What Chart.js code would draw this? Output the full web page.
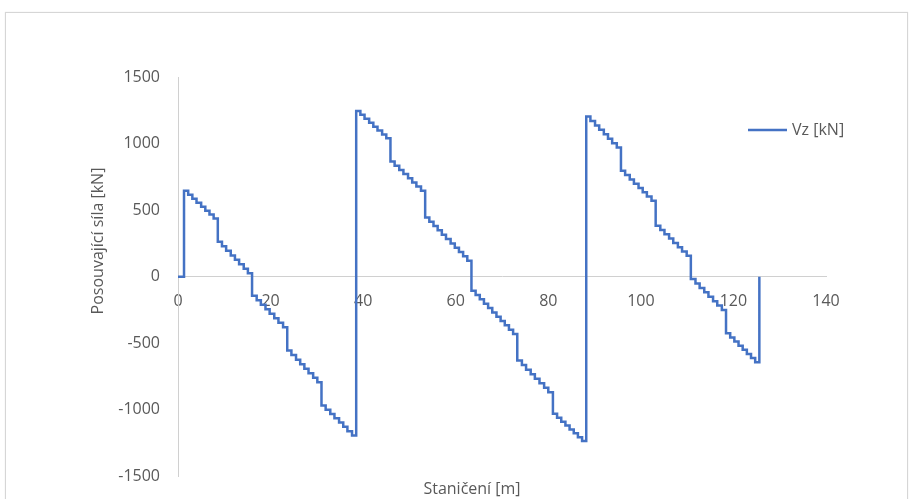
<!DOCTYPE html>
<html><head><meta charset="utf-8">
<script src="https://cdn.jsdelivr.net/npm/chart.js@4/dist/chart.umd.min.js"></script>
<style>
html,body{margin:0;padding:0;background:#fff;overflow:hidden;width:910px;height:499px;position:relative;}
#frame{position:absolute;left:5px;top:12px;width:903px;height:520px;border:1px solid #d6d6d6;box-sizing:border-box;box-shadow:0 0 1px #e0e0e0;}
#wrap{position:absolute;left:0;top:0;width:910px;height:504px;}
</style></head><body>
<div id="frame"></div>
<div id="wrap"><canvas id="c"></canvas></div>
<script>
// Stationing [m] and shear force Vz [kN]
const span1X = [0, 1.3, 2.2, 3.1, 4.0, 5.0, 5.9, 6.8, 7.7, 8.6, 9.5, 10.4, 11.4, 12.3, 13.2, 14.2, 15.1, 16.0, 17.0, 17.9, 18.9, 19.8, 20.8, 21.7, 22.7, 23.6, 24.5, 25.5, 26.4, 27.3, 28.2, 29.2, 30.1, 31.0, 31.9, 32.9, 33.8, 34.8, 35.7, 36.6, 37.6];
const span1Vz = [0, 645, 615, 586, 556, 526, 496, 467, 437, 262, 228, 194, 160, 127, 93, 59, 25, -143, -177, -211, -245, -279, -312, -346, -380, -555, -589, -623, -657, -691, -725, -759, -793, -967, -999, -1032, -1064, -1096, -1128, -1161, -1193];
const span2X = [38.5, 39.4, 40.3, 41.3, 42.2, 43.1, 44.1, 45.0, 45.9, 46.8, 47.8, 48.7, 49.7, 50.6, 51.5, 52.5, 53.4, 54.3, 55.2, 56.1, 57.0, 57.9, 58.9, 59.8, 60.7, 61.6, 62.5, 63.4, 64.3, 65.2, 66.1, 67.0, 67.9, 68.8, 69.7, 70.6, 71.5, 72.4, 73.3, 74.3, 75.2, 76.2, 77.1, 78.1, 79.1, 80.0, 81.0, 81.9, 82.8, 83.7, 84.6, 85.5, 86.4, 87.3];
const span2Vz = [1245, 1216, 1186, 1157, 1127, 1098, 1069, 1039, 865, 834, 802, 771, 739, 708, 677, 645, 445, 413, 380, 348, 315, 283, 250, 218, 185, 153, 120, -105, -138, -170, -203, -235, -268, -300, -333, -365, -398, -430, -630, -664, -698, -732, -766, -800, -834, -868, -1030, -1059, -1089, -1118, -1147, -1176, -1206, -1235];
const span3X = [88.2, 89.1, 90.1, 91.0, 92.0, 92.9, 93.8, 94.8, 95.7, 96.6, 97.6, 98.5, 99.5, 100.4, 101.3, 102.3, 103.2, 104.2, 105.1, 106.1, 107.0, 108.0, 108.9, 109.9, 110.8, 111.8, 112.7, 113.7, 114.6, 115.6, 116.5, 117.5, 118.4, 119.3, 120.2, 121.1, 122.0, 122.9, 123.8, 124.7, 125.6];
const span3Vz = [1203, 1170, 1136, 1103, 1070, 1036, 1003, 970, 795, 763, 731, 699, 666, 634, 602, 570, 382, 350, 318, 286, 254, 222, 190, 158, -18, -51, -84, -117, -151, -184, -217, -250, -425, -456, -487, -518, -549, -580, -611, -642, 0];

const xTicks = [0, 20, 40, 60, 80, 100, 120, 140];
const yTicks = [-1500, -1000, -500, 0, 500, 1000, 1500];
const seriesName = 'Vz [kN]';
const xTitle = 'Staničení [m]';
const yTitle = 'Posouvající síla [kN]';

const stationing = span1X.concat(span2X, span3X);
const shear = span1Vz.concat(span2Vz, span3Vz);
const points = stationing.map((x, i) => ({x: x, y: shear[i]}));

const FONT = "'Open Sans', 'Liberation Sans', sans-serif";
const TXT = '#595959';
const AXIS = '#d0d0d0';
const BLUE = '#4472C4';

const overlay = {
  id: 'overlay',
  afterDraw(chart) {
    const ctx = chart.ctx, a = chart.chartArea;
    ctx.save();
    // legend
    ctx.strokeStyle = BLUE; ctx.lineWidth = 2.5;
    ctx.beginPath(); ctx.moveTo(a.right - 78, 130); ctx.lineTo(a.right - 39, 130); ctx.stroke();
    ctx.fillStyle = TXT; ctx.font = '16px ' + FONT;
    ctx.textAlign = 'left'; ctx.textBaseline = 'middle';
    ctx.fillText(seriesName, a.right - 34, 130);
    // x axis title
    ctx.textAlign = 'center';
    ctx.fillText(xTitle, 472, 489);
    // y axis title
    ctx.translate(98, 241);
    ctx.rotate(-Math.PI / 2);
    ctx.fillText(yTitle, 0, 0);
    ctx.restore();
  }
};

new Chart(document.getElementById('c'), {
  type: 'line',
  data: { datasets: [{
    label: seriesName, data: points, borderColor: BLUE, backgroundColor: BLUE,
    borderWidth: 2.5, pointRadius: 0, stepped: 'before', tension: 0, fill: false
  }]},
  options: {
    responsive: true, maintainAspectRatio: false, animation: false,
    layout: { padding: { left: 84, right: 84, top: 77, bottom: 0 } },
    plugins: { legend: { display: false }, tooltip: { enabled: false } },
    scales: {
      x: {
        type: 'linear', position: { y: 0 }, min: 0, max: 140,
        afterBuildTicks: s => { s.ticks = xTicks.map(v => ({value: v})); },
        afterFit: s => { s.height = 35; },
        grid: { display: false, drawTicks: false },
        border: { display: true, color: AXIS, width: 1 },
        ticks: { padding: 15, color: TXT, font: { family: FONT, size: 16 }, maxRotation: 0, callback: v => String(v) }
      },
      y: {
        type: 'linear', position: 'left', min: -1500, max: 1500,
        afterBuildTicks: s => { s.ticks = yTicks.map(v => ({value: v})); },
        afterFit: s => { s.width = 94; },
        grid: { display: false, drawTicks: false },
        border: { display: true, color: AXIS, width: 1 },
        ticks: { padding: 18, color: TXT, font: { family: FONT, size: 16 }, callback: v => String(v) }
      }
    }
  },
  plugins: [overlay]
});
</script></body></html>
